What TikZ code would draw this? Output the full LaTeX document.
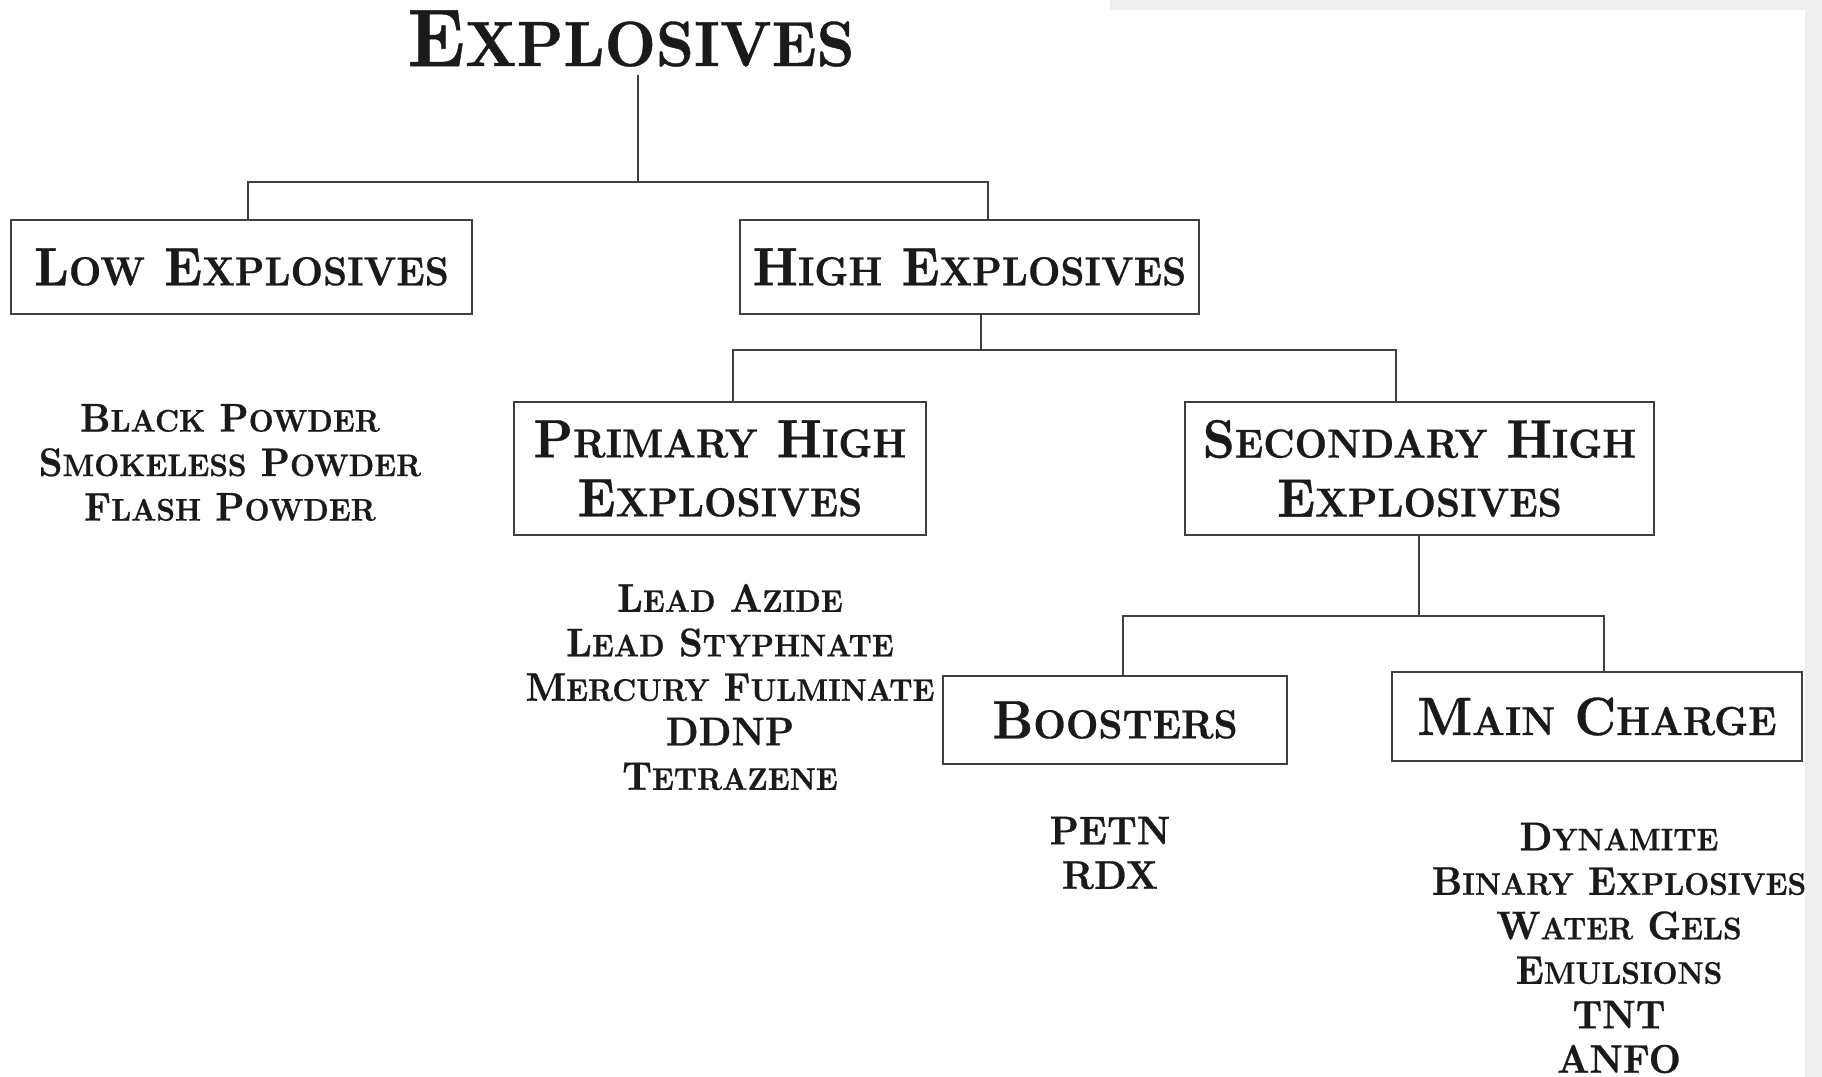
\documentclass[tikz,border=0pt]{standalone}
\usepackage{fontspec}
\setmainfont{lmroman10-regular.otf}[BoldFont=lmroman10-bold.otf, BoldFeatures={FakeStretch=0.93, FakeBold=0.6}]
\usetikzlibrary{positioning}

\definecolor{linegray}{HTML}{3F3F3F}
\definecolor{inkblack}{HTML}{1A1A1A}
\definecolor{edgegray}{HTML}{EEEEEE}

\makeatletter
\newcommand\smcratio{0.75}
\newcommand\smc[1]{{\fontsize{\fpeval{\smcratio*\f@size}}{\f@baselineskip}\selectfont #1}}
\makeatother

\tikzset{
  box/.style={draw=linegray, line width=1pt, inner sep=0pt, text=inkblack, align=center,
    font=\fontsize{27}{29.5}\selectfont\bfseries},
  items/.style={inner sep=0pt, text=inkblack, align=center,
    font=\fontsize{20}{22.25}\selectfont\bfseries\def\smcratio{0.78}},
  link/.style={draw=linegray, line width=1pt},
}

\begin{document}
\begin{tikzpicture}[x=0.5pt, y=-0.5pt]
\useasboundingbox (0,0) rectangle (1822,1077);
\fill[edgegray] (1805,0) rectangle (1822,1077);
\fill[edgegray] (1110,0) rectangle (1822,10);

\node[inner sep=0pt, outer sep=4pt, text=inkblack, font=\fontsize{41}{42}\selectfont\bfseries\def\smcratio{0.78}]
  (title) at (631,38.5) {E\smc{XPLOSIVES}};

\node[box, minimum width=230.5pt, minimum height=47pt] (low) at (241.5,267) {L\smc{OW} E\smc{XPLOSIVES}};
\node[box, minimum width=229.5pt, minimum height=47pt] (high) at (969.5,267) {H\smc{IGH} E\smc{XPLOSIVES}};
\node[box, minimum width=206pt, minimum height=66.5pt] (primary) at (720,468.5) {P\smc{RIMARY} H\smc{IGH}\\E\smc{XPLOSIVES}};
\node[box, minimum width=234.5pt, minimum height=66.5pt] (secondary) at (1419.5,468.5) {S\smc{ECONDARY} H\smc{IGH}\\E\smc{XPLOSIVES}};
\node[box, minimum width=172pt, minimum height=44pt] (boosters) at (1115,720) {B\smc{OOSTERS}};
\node[box, minimum width=205pt, minimum height=44.5pt] (main) at (1597,716.5) {M\smc{AIN} C\smc{HARGE}};

\node[items] (lowlist) at (230,462.5) {B\smc{LACK} P\smc{OWDER}\\S\smc{MOKELESS} P\smc{OWDER}\\F\smc{LASH} P\smc{OWDER}};
\node[items] (primarylist) at (730,687) {L\smc{EAD} A\smc{ZIDE}\\L\smc{EAD} S\smc{TYPHNATE}\\M\smc{ERCURY} F\smc{ULMINATE}\\DDNP\\T\smc{ETRAZENE}};
\node[items] (boosterlist) at (1110,853) {PETN\\RDX};
\node[items] (mainlist) at (1619,948) {D\smc{YNAMITE}\\B\smc{INARY} E\smc{XPLOSIVES}\\W\smc{ATER} G\smc{ELS}\\E\smc{MULSIONS}\\TNT\\ANFO};

% branch points
\coordinate (b1) at (638,182);
\coordinate (b2) at (981,350);
\coordinate (b3) at (1419,616);

\draw[link] (title.south -| b1) -- (b1);
\draw[link] ([xshift=3pt]low.north) |- (b1) -| ([xshift=9.25pt]high.north);
\draw[link] (high.south -| b2) -- (b2);
\draw[link] ([xshift=6.5pt]primary.north) |- (b2) -| ([xshift=-11.75pt]secondary.north);
\draw[link] (secondary.south -| b3) -- (b3);
\draw[link] ([xshift=4pt]boosters.north) |- (b3) -| ([xshift=3.5pt]main.north);
\end{tikzpicture}
\end{document}
